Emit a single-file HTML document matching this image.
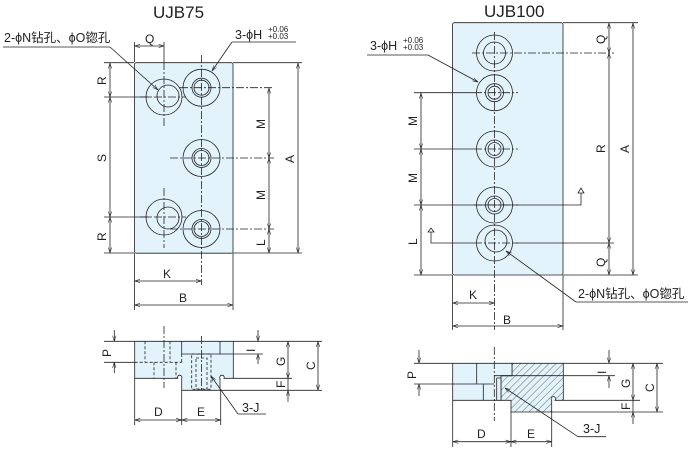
<!DOCTYPE html>
<html><head><meta charset="utf-8"><style>
html,body{margin:0;padding:0;background:#fff}
svg{display:block}
text{font-family:"Liberation Sans","Noto Sans CJK SC",sans-serif;fill:#222;font-size:12px}
.l{stroke:#222;stroke-width:0.8;fill:none}
.c{stroke:#222;stroke-width:0.8;fill:none;stroke-dasharray:8 2 2 2}
.d{stroke:#222;stroke-width:0.8;fill:none;stroke-dasharray:3 2}
.p{fill:#e2f3fc;stroke:#222;stroke-width:0.8}
</style></head><body>
<svg width="688" height="453" viewBox="0 0 688 453" xmlns="http://www.w3.org/2000/svg">
<defs>
<marker id="a" viewBox="0 0 10 10" refX="10" refY="5" markerWidth="7" markerHeight="7" orient="auto-start-reverse"><path d="M0,2 L10,5 L0,8" fill="none" stroke="#222" stroke-width="1"/></marker>
<pattern id="h" width="5" height="5" patternUnits="userSpaceOnUse" patternTransform="rotate(45)"><rect width="5" height="5" fill="#e2f3fc"/><line x1="0" y1="0" x2="0" y2="5" stroke="#333" stroke-width="0.7"/></pattern>
</defs>

<!-- ===== UJB75 top ===== -->
<text x="153" y="18" style="font-size:17px">UJB75</text>
<rect class="p" x="134.5" y="62.7" width="98.5" height="190.5" rx="2"/>
<circle class="l" cx="164" cy="97" r="18"/><circle class="l" cx="168" cy="96" r="11"/>
<circle class="l" cx="164" cy="217" r="18"/><circle class="l" cx="168" cy="218" r="11"/>
<g class="l"><circle cx="201.5" cy="87.7" r="18.5"/><circle cx="201.5" cy="87.7" r="9.5"/><circle cx="201.5" cy="87.7" r="7.5"/>
<circle cx="201.5" cy="158" r="18.5"/><circle cx="201.5" cy="158" r="9.5"/><circle cx="201.5" cy="158" r="7.5"/>
<circle cx="201.5" cy="229" r="18.5"/><circle cx="201.5" cy="229" r="9.5"/><circle cx="201.5" cy="229" r="7.5"/></g>
<line class="c" x1="164" y1="62" x2="164" y2="128"/><line class="c" x1="164" y1="188" x2="164" y2="248"/>
<line class="c" x1="201.5" y1="55" x2="201.5" y2="285"/>
<line class="c" x1="180" y1="87.7" x2="274" y2="87.7"/><line class="c" x1="170" y1="158" x2="274" y2="158"/><line class="c" x1="170" y1="229" x2="274" y2="229"/>
<line class="c" x1="140" y1="97" x2="186" y2="97"/><line class="c" x1="140" y1="217" x2="186" y2="217"/>
<line class="l" x1="104" y1="62.7" x2="134" y2="62.7"/><line class="l" x1="104" y1="253" x2="134" y2="253"/>
<line class="l" x1="104" y1="97" x2="150" y2="97"/><line class="l" x1="104" y1="217" x2="150" y2="217"/>
<line class="l" x1="233" y1="62.7" x2="302" y2="62.7"/><line class="l" x1="233" y1="253" x2="302" y2="253"/>
<line class="l" x1="134.5" y1="253" x2="134.5" y2="310"/><line class="l" x1="233" y1="253" x2="233" y2="310"/>
<line class="l" x1="134.5" y1="42" x2="134.5" y2="62"/><line class="l" x1="164" y1="42" x2="164" y2="62"/>
<line class="l" x1="110" y1="63" x2="110" y2="97" marker-start="url(#a)" marker-end="url(#a)"/>
<line class="l" x1="110" y1="97" x2="110" y2="217" marker-start="url(#a)" marker-end="url(#a)"/>
<line class="l" x1="110" y1="217" x2="110" y2="253" marker-start="url(#a)" marker-end="url(#a)"/>
<line class="l" x1="269" y1="88" x2="269" y2="158" marker-start="url(#a)" marker-end="url(#a)"/>
<line class="l" x1="269" y1="158" x2="269" y2="229" marker-start="url(#a)" marker-end="url(#a)"/>
<line class="l" x1="269" y1="229" x2="269" y2="253" marker-start="url(#a)" marker-end="url(#a)"/>
<line class="l" x1="298" y1="63" x2="298" y2="253" marker-start="url(#a)" marker-end="url(#a)"/>
<line class="l" x1="134.5" y1="281" x2="201.5" y2="281" marker-start="url(#a)" marker-end="url(#a)"/>
<line class="l" x1="134.5" y1="305" x2="233" y2="305" marker-start="url(#a)" marker-end="url(#a)"/>
<line class="l" x1="134.5" y1="46" x2="164" y2="46" marker-start="url(#a)" marker-end="url(#a)"/>
<text x="145" y="43">Q</text>
<text x="163" y="278">K</text><text x="179" y="302">B</text>
<text transform="translate(106,85) rotate(-90)">R</text>
<text transform="translate(106,162) rotate(-90)">S</text>
<text transform="translate(106,241) rotate(-90)">R</text>
<text transform="translate(265,129) rotate(-90)">M</text>
<text transform="translate(265,200) rotate(-90)">M</text>
<text transform="translate(265,246) rotate(-90)">L</text>
<text transform="translate(294,163) rotate(-90)">A</text>
<text x="4" y="42" style="font-size:12.5px">2-ϕN钻孔、ϕO锪孔</text>
<line class="l" x1="3" y1="47" x2="110" y2="47"/>
<line class="l" x1="110" y1="47" x2="158" y2="90" marker-end="url(#a)"/>
<text x="235" y="39" style="font-size:12.5px">3-ϕH</text>
<text x="268" y="32" style="font-size:8px">+0.06</text><text x="268" y="39" style="font-size:8px">+0.03</text>
<line class="l" x1="232" y1="42" x2="296" y2="42"/>
<line class="l" x1="232" y1="42" x2="212" y2="71" marker-end="url(#a)"/>

<!-- ===== UJB100 top ===== -->
<text x="484" y="17" style="font-size:17px">UJB100</text>
<rect class="p" x="452.5" y="22.7" width="110.5" height="252.3" rx="2"/>
<g class="l"><circle cx="494.5" cy="53" r="18"/><circle cx="494.5" cy="53" r="11"/>
<circle cx="494.5" cy="92.7" r="18"/><circle cx="494.5" cy="92.7" r="9"/><circle cx="494.5" cy="92.7" r="6.5"/>
<circle cx="494.5" cy="149" r="18"/><circle cx="494.5" cy="149" r="9"/><circle cx="494.5" cy="149" r="6.5"/>
<circle cx="494.5" cy="205" r="18"/><circle cx="494.5" cy="205" r="9"/><circle cx="494.5" cy="205" r="6.5"/>
<circle cx="494.5" cy="243" r="18"/><circle cx="496" cy="241" r="11"/></g>
<line class="c" x1="494.5" y1="32" x2="494.5" y2="330"/>
<line class="c" x1="472" y1="53" x2="614" y2="53"/>
<line class="c" x1="474" y1="92.7" x2="518" y2="92.7"/>
<line class="c" x1="474" y1="149" x2="518" y2="149"/>
<line class="c" x1="474" y1="205" x2="518" y2="205"/>
<line class="c" x1="474" y1="243" x2="518" y2="243"/>
<line class="l" x1="514" y1="243" x2="614" y2="243"/>
<line class="l" x1="414" y1="92.7" x2="474" y2="92.7"/><line class="l" x1="414" y1="149" x2="474" y2="149"/>
<line class="l" x1="414" y1="205" x2="574" y2="205"/><line class="l" x1="440" y1="243" x2="474" y2="243"/>
<line class="l" x1="414" y1="275" x2="452" y2="275"/>
<line class="l" x1="563" y1="22.7" x2="638" y2="22.7"/><line class="l" x1="563" y1="275" x2="638" y2="275"/>
<line class="l" x1="452.5" y1="275" x2="452.5" y2="330"/><line class="l" x1="563" y1="275" x2="563" y2="330"/>
<path class="l" d="M574,205 L581,205 L581,193 M578,193 L581,188 L584,193 Z"/>
<path class="l" d="M440,243 L431,243 L431,232 M428,232 L431,228 L434,232 Z"/>
<line class="l" x1="421" y1="93" x2="421" y2="149" marker-start="url(#a)" marker-end="url(#a)"/>
<line class="l" x1="421" y1="149" x2="421" y2="205" marker-start="url(#a)" marker-end="url(#a)"/>
<line class="l" x1="421" y1="205" x2="421" y2="275" marker-start="url(#a)" marker-end="url(#a)"/>
<line class="l" x1="609" y1="23" x2="609" y2="53" marker-start="url(#a)" marker-end="url(#a)"/>
<line class="l" x1="609" y1="53" x2="609" y2="243" marker-start="url(#a)" marker-end="url(#a)"/>
<line class="l" x1="609" y1="243" x2="609" y2="275" marker-start="url(#a)" marker-end="url(#a)"/>
<line class="l" x1="633" y1="23" x2="633" y2="275" marker-start="url(#a)" marker-end="url(#a)"/>
<line class="l" x1="452.5" y1="303" x2="494.5" y2="303" marker-start="url(#a)" marker-end="url(#a)"/>
<line class="l" x1="452.5" y1="326" x2="563" y2="326" marker-start="url(#a)" marker-end="url(#a)"/>
<text x="469" y="299">K</text><text x="503" y="324">B</text>
<text transform="translate(417,126) rotate(-90)">M</text>
<text transform="translate(417,183) rotate(-90)">M</text>
<text transform="translate(417,245) rotate(-90)">L</text>
<text transform="translate(605,44) rotate(-90)">Q</text>
<text transform="translate(605,153) rotate(-90)">R</text>
<text transform="translate(605,267) rotate(-90)">Q</text>
<text transform="translate(629,153) rotate(-90)">A</text>
<text x="370" y="50" style="font-size:12.5px">3-ϕH</text>
<text x="403" y="43" style="font-size:8px">+0.06</text><text x="403" y="50" style="font-size:8px">+0.03</text>
<line class="l" x1="367" y1="55" x2="428" y2="55"/>
<line class="l" x1="428" y1="55" x2="478" y2="82" marker-end="url(#a)"/>
<text x="578" y="298" style="font-size:12.5px">2-ϕN钻孔、ϕO锪孔</text>
<line class="l" x1="576" y1="302" x2="688" y2="302"/>
<line class="l" x1="576" y1="302" x2="506" y2="251" marker-end="url(#a)"/>

<!-- ===== UJB75 side ===== -->
<path class="p" d="M134.7,341.3 H233.3 V378.3 H224 A2.2,2.2 0 1 0 220,378.3 V390.3 H181.7 V378.3 A2.2,2.2 0 1 0 177.7,378.3 H134.7 Z"/>
<path class="l" d="M181.7,341.3 V354 H220 V341.3"/>
<line class="d" x1="134.7" y1="362.3" x2="181.7" y2="362.3"/>
<line class="d" x1="145" y1="341.3" x2="145" y2="362.3"/>
<line class="d" x1="170" y1="341.3" x2="170" y2="362.3"/>
<line class="d" x1="154" y1="362.3" x2="154" y2="378"/><line class="d" x1="176" y1="362.3" x2="176" y2="378"/>
<line class="d" x1="181.7" y1="354" x2="181.7" y2="362.3"/>
<rect class="d" x="191.7" y="354" width="19.3" height="35.3"/>
<rect class="d" x="196" y="358" width="11" height="31"/>
<line class="c" x1="164" y1="326" x2="164" y2="388"/>
<line class="c" x1="201.5" y1="336" x2="201.5" y2="390"/>
<line class="l" x1="104" y1="341.3" x2="134.7" y2="341.3"/><line class="l" x1="104" y1="362.3" x2="134.7" y2="362.3"/>
<line class="l" x1="233.3" y1="341.3" x2="322" y2="341.3"/><line class="l" x1="220" y1="354" x2="263" y2="354"/>
<line class="l" x1="233.3" y1="378.3" x2="292" y2="378.3"/><line class="l" x1="220" y1="390.3" x2="322" y2="390.3"/>
<line class="l" x1="134.7" y1="378.3" x2="134.7" y2="425"/><line class="l" x1="181.7" y1="390.3" x2="181.7" y2="425"/><line class="l" x1="220.7" y1="390.3" x2="220.7" y2="425"/>
<line class="l" x1="114.3" y1="330" x2="114.3" y2="341.3" marker-end="url(#a)"/><line class="l" x1="114.3" y1="373" x2="114.3" y2="362.3" marker-end="url(#a)"/>
<line class="l" x1="258" y1="330" x2="258" y2="341.3" marker-end="url(#a)"/><line class="l" x1="258" y1="364" x2="258" y2="354" marker-end="url(#a)"/>
<line class="l" x1="288" y1="341.3" x2="288" y2="378.3" marker-start="url(#a)" marker-end="url(#a)"/>
<line class="l" x1="288" y1="401.7" x2="288" y2="390.3" marker-end="url(#a)"/><line class="l" x1="288" y1="378.3" x2="288" y2="390.3"/>
<line class="l" x1="318" y1="341.3" x2="318" y2="390.3" marker-start="url(#a)" marker-end="url(#a)"/>
<line class="l" x1="134.7" y1="420" x2="181.7" y2="420" marker-start="url(#a)" marker-end="url(#a)"/>
<line class="l" x1="181.7" y1="420" x2="220.7" y2="420" marker-start="url(#a)" marker-end="url(#a)"/>
<text x="154" y="416">D</text><text x="197" y="416">E</text>
<text transform="translate(111,357) rotate(-90)">P</text>
<text transform="translate(255,352) rotate(-90)">I</text>
<text transform="translate(285,366) rotate(-90)">G</text>
<text transform="translate(285,388) rotate(-90)">F</text>
<text transform="translate(315,370) rotate(-90)">C</text>
<text x="242" y="412" style="font-size:12.5px">3-J</text>
<line class="l" x1="238" y1="414" x2="266" y2="414"/>
<line class="l" x1="238" y1="414" x2="211" y2="376" marker-end="url(#a)"/>

<!-- ===== UJB100 side ===== -->
<path d="M512,363.3 H563.3 V400.3 H555 A2.2,2.2 0 1 0 551.7,400.3 V412 H511 V400.3 H501 V375.7 H512 Z" fill="url(#h)" stroke="#222" stroke-width="0.8"/>
<path class="p" d="M452.7,363.3 H512 V375.7 H501 V400.3 H452.7 Z"/>
<path class="l" d="M494.3,375.7 H512 M476.7,363.3 V384 M483.3,384 V400.3 M452.7,384 H494.3 M496.7,378 H501 M496.7,378 V400.3"/>
<line class="c" x1="494.3" y1="347" x2="494.3" y2="421"/>
<line class="l" x1="414" y1="363.3" x2="452.7" y2="363.3"/><line class="l" x1="414" y1="384" x2="452.7" y2="384"/>
<line class="l" x1="563.3" y1="363.3" x2="663" y2="363.3"/><line class="l" x1="512" y1="375.7" x2="615" y2="375.7"/>
<line class="l" x1="563.3" y1="400.3" x2="640" y2="400.3"/><line class="l" x1="551.7" y1="412" x2="663" y2="412"/>
<line class="l" x1="452.7" y1="400.3" x2="452.7" y2="447"/><line class="l" x1="511" y1="412" x2="511" y2="447"/><line class="l" x1="551.7" y1="412" x2="551.7" y2="447"/>
<line class="l" x1="419" y1="350" x2="419" y2="363.3" marker-end="url(#a)"/><line class="l" x1="419" y1="396" x2="419" y2="384" marker-end="url(#a)"/>
<line class="l" x1="609" y1="350" x2="609" y2="363.3" marker-end="url(#a)"/><line class="l" x1="609" y1="388" x2="609" y2="375.7" marker-end="url(#a)"/>
<line class="l" x1="633" y1="363.3" x2="633" y2="400.3" marker-start="url(#a)" marker-end="url(#a)"/>
<line class="l" x1="633" y1="424" x2="633" y2="412" marker-end="url(#a)"/><line class="l" x1="633" y1="400.3" x2="633" y2="412"/>
<line class="l" x1="657" y1="363.3" x2="657" y2="412" marker-start="url(#a)" marker-end="url(#a)"/>
<line class="l" x1="452.7" y1="441.7" x2="511" y2="441.7" marker-start="url(#a)" marker-end="url(#a)"/>
<line class="l" x1="511" y1="441.7" x2="551.7" y2="441.7" marker-start="url(#a)" marker-end="url(#a)"/>
<text x="477" y="438">D</text><text x="527" y="438">E</text>
<text transform="translate(416,379) rotate(-90)">P</text>
<text transform="translate(606,374) rotate(-90)">I</text>
<text transform="translate(630,388) rotate(-90)">G</text>
<text transform="translate(630,410) rotate(-90)">F</text>
<text transform="translate(654,392) rotate(-90)">C</text>
<text x="583" y="433" style="font-size:12.5px">3-J</text>
<line class="l" x1="578" y1="436.7" x2="606" y2="436.7"/>
<line class="l" x1="578" y1="436.7" x2="505" y2="388" marker-end="url(#a)"/>
</svg>
</body></html>
